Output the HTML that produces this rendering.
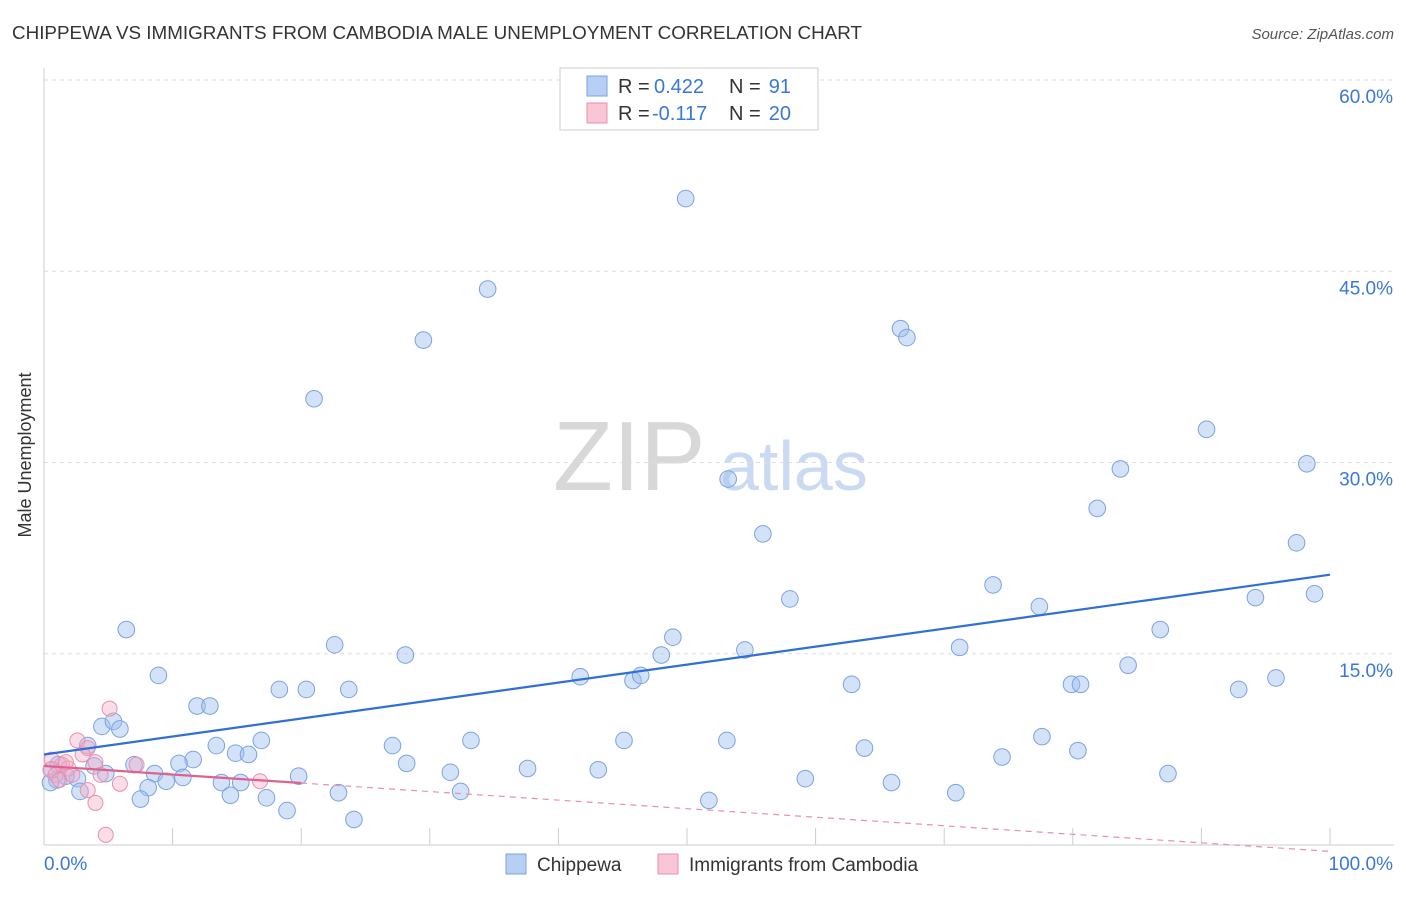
<!DOCTYPE html>
<html><head><meta charset="utf-8"><style>
body{margin:0;background:#fff;width:1406px;height:892px;overflow:hidden;font-family:"Liberation Sans",sans-serif}
svg text{font-family:"Liberation Sans",sans-serif}
</style></head><body>
<svg id="chart" width="1406" height="892">
<text x="12" y="39" font-size="18" fill="#333" textLength="850" lengthAdjust="spacingAndGlyphs">CHIPPEWA VS IMMIGRANTS FROM CAMBODIA MALE UNEMPLOYMENT CORRELATION CHART</text>
<text x="1394" y="39" font-size="15" fill="#555" text-anchor="end" font-style="italic">Source: ZipAtlas.com</text>
<text x="31" y="455" font-size="18" fill="#333" text-anchor="middle" transform="rotate(-90 31 455)">Male Unemployment</text>
<g>
<text x="553" y="490" font-size="98" fill="#d8d8d8" font-family="Liberation Serif,serif">ZIP</text>
<text x="720" y="490" font-size="70" fill="#c9daf2">atlas</text>
</g>
<g id="grid"></g><g id="marks"></g>
<g>
<rect x="560" y="68" width="258" height="62" fill="#fff" stroke="#ccc"/>
<rect x="587" y="76" width="20" height="20" fill="#b7cff5" stroke="#7aa3e0"/>
<rect x="587" y="103" width="20" height="20" fill="#f9c6d6" stroke="#e890b0"/>
<text x="618" y="93" font-size="20" fill="#333">R =</text>
<text x="654" y="93" font-size="20" fill="#3a78d8">0.422</text>
<text x="729" y="93" font-size="20" fill="#333">N =</text>
<text x="791" y="93" font-size="20" fill="#3a78d8" text-anchor="end">91</text>
<text x="618" y="120" font-size="20" fill="#333">R =</text>
<text x="652" y="120" font-size="20" fill="#3a78d8">-0.117</text>
<text x="729" y="120" font-size="20" fill="#333">N =</text>
<text x="791" y="120" font-size="20" fill="#3a78d8" text-anchor="end">20</text>
</g>
<g>
<rect x="506" y="854" width="20" height="20" fill="#b7cff5" stroke="#7aa3e0"/>
<text x="537" y="871" font-size="19" fill="#333">Chippewa</text>
<rect x="658" y="854" width="20" height="20" fill="#f9c6d6" stroke="#e890b0"/>
<text x="689" y="871" font-size="19" fill="#333">Immigrants from Cambodia</text>
</g>
</svg>
<script>
const yTicks=[15,30,45,60];
const yTickLabels=["15.0%","30.0%","45.0%","60.0%"];
const xTickLabels=["0.0%","100.0%"];
const chippewaX=[49.9,34.5,29.5,66.6,67.1,21.0,90.4,98.2,83.7,53.2,81.9,55.9,97.4,73.8,58.0,77.4,94.2,98.8,6.4,86.8,22.6,71.2,28.1,48.9,48.0,54.5,84.3,8.9,41.7,45.8,46.4,62.8,79.9,80.6,92.9,95.8,18.3,20.4,23.7,11.9,12.9,4.5,5.4,5.9,3.4,13.4,16.9,27.1,33.2,45.1,53.1,63.8,77.6,80.4,14.9,15.9,11.6,10.5,28.2,3.9,4.8,8.6,10.8,9.5,19.8,31.6,37.6,43.1,74.5,87.4,59.2,65.9,13.8,15.3,2.6,1.7,1.0,0.5,8.1,2.8,14.5,17.3,7.5,22.9,32.4,51.7,70.9,18.9,24.1,7.0,1.1,0.6];
const chippewaY=[50.7,43.6,39.6,40.5,39.8,35.0,32.6,29.9,29.5,28.7,26.4,24.4,23.7,20.4,19.3,18.7,19.4,19.7,16.9,16.9,15.7,15.5,14.9,16.3,14.9,15.3,14.1,13.3,13.2,12.9,13.3,12.6,12.6,12.6,12.2,13.1,12.2,12.2,12.2,10.9,10.9,9.3,9.7,9.1,7.8,7.8,8.2,7.8,8.2,8.2,8.2,7.6,8.5,7.4,7.2,7.1,6.7,6.4,6.4,6.2,5.6,5.6,5.3,5.0,5.4,5.7,6.0,5.9,6.9,5.6,5.2,4.9,4.9,4.9,5.2,5.4,5.1,4.9,4.5,4.2,3.9,3.7,3.6,4.1,4.2,3.5,4.1,2.7,2.0,6.3,6.3,5.9];
const cambodiaX=[0.5,0.9,1.4,1.9,2.6,3.4,4.0,5.1,7.2,3.4,4.0,5.9,4.8,16.8,0.6,1.2,2.2,1.7,3.0,4.4];
const cambodiaY=[5.9,5.5,6.3,6.0,8.2,7.6,6.5,10.7,6.3,4.3,3.3,4.8,0.8,5.0,6.7,5.1,5.5,6.5,7.1,5.5];
const chippewaTrend=[7.1,21.2];
const cambodiaTrend=[6.2,-0.5];
const NS="http://www.w3.org/2000/svg";
const X=v=>44+v*12.86, Y=v=>845-v*12.75;
function mk(t,a,p){const e=document.createElementNS(NS,t);for(const k in a)e.setAttribute(k,a[k]);p.appendChild(e);return e;}
const grid=document.getElementById('grid'),marks=document.getElementById('marks');
yTicks.forEach((t,i)=>{
 const l=mk('line',{x1:44,x2:1394,y1:Y(t),y2:Y(t),stroke:'#ddd','stroke-dasharray':'4 4'},grid);
 
 
 const tx=mk('text',{x:1393,y:Y(t)+23,'font-size':19,fill:'#3a78d8','text-anchor':'end'},grid);tx.textContent=yTickLabels[i];
 
 
});
const ax=mk('line',{x1:44,x2:44,y1:68,y2:845,stroke:'#ccc'},grid);


const bx=mk('line',{x1:44,x2:1394,y1:845,y2:845,stroke:'#ccc'},grid);


for(let i=0;i<=10;i++){const t=mk('line',{x1:X(i*10),x2:X(i*10),y1:828,y2:845,stroke:'#ccc'},grid);
 
 }
[[0,'start',X(0)],[1,'end',1393]].forEach(([i,a,x])=>{const t=mk('text',{x:x,y:870,'font-size':19,fill:'#3a78d8','text-anchor':a},grid);t.textContent=xTickLabels[i];
 
 });
chippewaX.forEach((v,i)=>{const c=mk('circle',{cx:X(v),cy:Y(chippewaY[i]),r:8.3,fill:'rgba(160,190,240,0.45)',stroke:'#7aa3e0','stroke-width':1},marks);
 
 });
cambodiaX.forEach((v,i)=>{const c=mk('circle',{cx:X(v),cy:Y(cambodiaY[i]),r:7.5,fill:'rgba(245,170,195,0.4)',stroke:'#e890b0','stroke-width':1},marks);
 
 });
const bl=mk('line',{x1:X(0),y1:Y(chippewaTrend[0]),x2:X(100),y2:Y(chippewaTrend[1]),stroke:'#2f6fd6','stroke-width':2.2},marks);


const py=x=>cambodiaTrend[0]+(cambodiaTrend[1]-cambodiaTrend[0])*x/100;
const pl=mk('line',{x1:X(0),y1:Y(py(0)),x2:X(20),y2:Y(py(20)),stroke:'#e0608e','stroke-width':2.2},marks);


const pd=mk('line',{x1:X(20),y1:Y(py(20)),x2:X(100),y2:Y(py(100)),stroke:'#e890b0','stroke-width':1.2,'stroke-dasharray':'6 5'},marks);


</script>
</body></html>
